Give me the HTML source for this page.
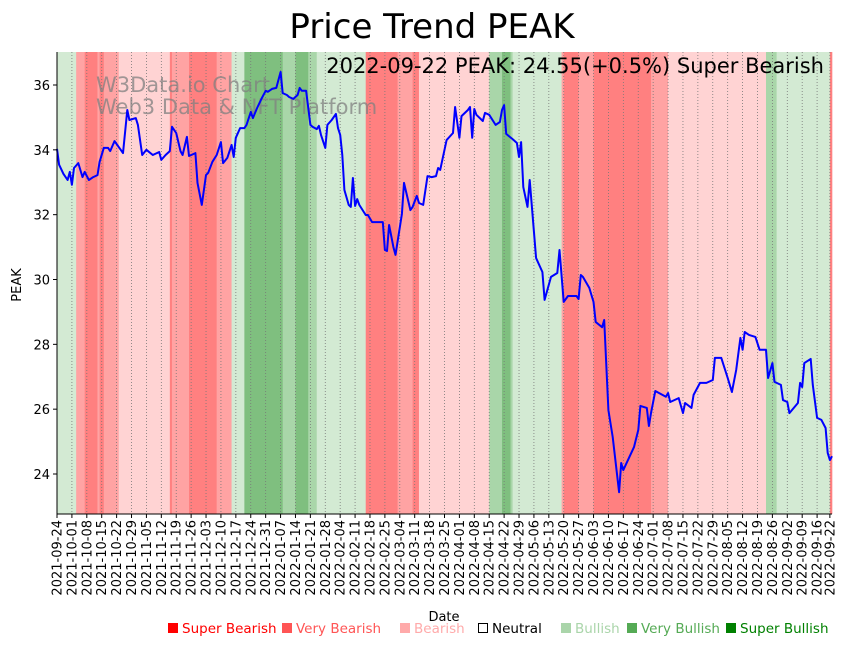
<!DOCTYPE html>
<html><head><meta charset="utf-8"><style>
body{margin:0;background:#fff;width:851px;height:646px;overflow:hidden;font-family:"Liberation Sans","DejaVu Sans",sans-serif}
svg text{font-family:"DejaVu Sans","Liberation Sans",sans-serif}
</style></head><body>
<svg id="chart" width="851" height="646" viewBox="0 0 851 646" xmlns="http://www.w3.org/2000/svg">
<text x="432" y="38" font-size="34" text-anchor="middle" fill="#000">Price Trend PEAK</text>
<g id="bands"></g>
<g id="grid"></g>
<g fill="#808080" fill-opacity="0.75" font-size="21">
<text x="96" y="92">W3Data.io Chart</text>
<text x="96" y="114">Web3 Data &amp; NFT Platform</text>
</g>
<text x="824" y="73" font-size="21" text-anchor="end" fill="#000">2022-09-22 PEAK: 24.55(+0.5%) Super Bearish</text>
<path id="line" fill="none" stroke="#0000ff" stroke-width="2" stroke-linejoin="round"></path>
<line x1="57" y1="52" x2="57" y2="514" stroke="#000" stroke-width="1"/>
<line x1="57" y1="514" x2="832" y2="514" stroke="#000" stroke-width="1"/>
<g id="yticks"></g>
<g id="xticks"></g>
<text x="0" y="0" transform="translate(21,285) rotate(-90)" font-size="13" text-anchor="middle">PEAK</text>
<text x="444" y="621" font-size="13" text-anchor="middle">Date</text>
<g font-size="13.5">
<g fill="#ff0000"><rect x="168" y="623" width="10" height="10"/><text x="182" y="633">Super Bearish</text></g>
<g fill="#ff5555"><rect x="282" y="623" width="10" height="10"/><text x="296" y="633">Very Bearish</text></g>
<g fill="#ffaaaa"><rect x="400" y="623" width="10" height="10"/><text x="414" y="633">Bearish</text></g>
<g fill="#000"><rect x="478.5" y="623.5" width="9" height="9" fill="none" stroke="#000"/><text x="492" y="633">Neutral</text></g>
<g fill="#aad5aa"><rect x="561" y="623" width="10" height="10"/><text x="575" y="633">Bullish</text></g>
<g fill="#55aa55"><rect x="627" y="623" width="10" height="10"/><text x="641" y="633">Very Bullish</text></g>
<g fill="#008000"><rect x="726" y="623" width="10" height="10"/><text x="740" y="633">Super Bullish</text></g>
</g>
</svg>
<script>
const priceDays=[0,1,3,5,6,7,8,10,12,13,15,17,19,20,22,24,25,27,29,31,33,34,37,38,40,42,45,46,48,49,51,53,54,56,58,59,61,62,65,66,68,70,71,73,75,77,78,80,82,83,84,86,88,89,91,92,94,96,98,99,101,103,105,106,108,109,111,113,114,115,117,119,120,122,123,124,126,127,129,131,132,133,134,135,137,138,139,140,141,142,145,146,148,150,153,154,155,156,158,159,162,163,166,167,169,170,172,174,176,178,179,180,183,186,187,189,190,193,194,195,196,197,200,201,203,206,208,209,210,211,214,216,217,218,219,221,222,225,228,229,232,235,236,238,240,244,245,246,247,250,252,253,256,257,259,261,264,265,266,271,273,274,277,278,279,281,286,287,288,292,294,295,298,299,302,305,308,309,312,315,317,319,321,322,323,325,328,330,333,334,336,337,340,341,343,344,348,349,350,351,354,355,357,359,361,362,363,364];
const prices=[34.03,33.54,33.26,33.07,33.32,32.92,33.44,33.59,33.16,33.32,33.07,33.16,33.22,33.63,34.06,34.06,33.96,34.27,34.09,33.90,35.23,34.92,34.98,34.77,33.84,34.0,33.84,33.87,33.93,33.69,33.84,33.96,34.71,34.52,33.96,33.84,34.40,33.81,33.90,32.98,32.30,33.22,33.29,33.63,33.84,34.24,33.59,33.75,34.15,33.78,34.37,34.67,34.67,34.77,35.17,34.98,35.29,35.57,35.82,35.79,35.88,35.91,36.40,35.75,35.69,35.63,35.57,35.69,35.91,35.82,35.82,34.77,34.71,34.64,34.74,34.46,34.06,34.77,34.92,35.11,34.67,34.46,33.84,32.76,32.30,32.24,33.13,32.27,32.48,32.30,31.99,31.99,31.77,31.77,31.77,30.91,30.88,31.68,31.0,30.76,32.02,32.98,32.14,32.24,32.58,32.36,32.30,33.19,33.16,33.19,33.44,33.38,34.30,34.52,35.32,34.37,35.04,35.23,35.32,34.37,35.26,35.08,34.89,35.14,35.08,34.77,34.86,35.23,35.38,34.49,34.33,34.21,33.78,34.24,32.85,32.24,33.07,30.66,30.23,29.37,30.08,30.20,30.91,29.31,29.49,29.49,29.40,30.14,30.08,29.74,29.31,28.69,28.53,28.75,25.97,25.14,23.44,24.34,24.12,24.83,25.36,26.10,26.04,25.48,25.88,26.56,26.38,26.50,26.22,26.34,25.88,26.19,26.04,26.44,26.81,26.81,26.90,27.58,27.58,26.96,26.53,27.21,28.20,27.83,28.38,28.29,28.23,27.83,27.83,26.96,27.42,26.84,26.75,26.28,26.22,25.88,26.19,26.81,26.68,27.42,27.55,26.75,25.73,25.67,25.42,24.65,24.43,24.55];
const bandStarts=[0,9,13,19,20,22,29,53,54,62,69,75,82,88,106,112,118,122,145,160,167,170,203,209,213,214,237,238,245,252,279,287,333,338,363];
const bandEnds=[9,13,19,20,22,29,53,54,62,69,75,82,88,106,112,118,122,145,160,167,170,203,209,213,214,237,238,245,252,279,287,333,338,363,364];
const bandLevels=[1,-2,-3,-2,-3,-2,-1,-3,-2,-3,-3,-2,1,3,2,3,2,1,-3,-2,-3,-1,2,3,2,1,-2,-3,-2,-3,-2,-1,2,1,-3];
const yTicks=[24,26,28,30,32,34,36];
const totalDays=364;
const startDate=new Date(Date.UTC(2021,8,24));

const X0=57,X1=832,Y0=52,Y1=514;
const xs=d=>X0+d*(X1-X0)/totalDays;
const ys=v=>474-(v-24)*(389/12);
const NS="http://www.w3.org/2000/svg";
const colors={"-3":"#ff8080","-2":"#ffa3a3","-1":"#ffd3d3","0":"#ffffff","1":"#d3ead3","2":"#a9d6a9","3":"#7fbf7f"};
const bandsG=document.getElementById('bands');
for(let i=0;i<bandStarts.length;i++){
  const r=document.createElementNS(NS,'rect');
  
  
  r.setAttribute('x',xs(bandStarts[i]));r.setAttribute('y',Y0);
  r.setAttribute('width',xs(bandEnds[i])-xs(bandStarts[i])+0.3);r.setAttribute('height',Y1-Y0);
  r.setAttribute('fill',colors[bandLevels[i]]);
  bandsG.appendChild(r);
}
const fmt=d=>{const t=new Date(startDate.getTime()+d*86400000);return t.toISOString().slice(0,10);};
const tickDays=[];for(let d=0;d<totalDays-1;d+=7)tickDays.push(d);tickDays.push(totalDays-1);
const gridG=document.getElementById('grid'),xt=document.getElementById('xticks');
tickDays.forEach(d=>{
  const x=xs(d);
  const g=document.createElementNS(NS,'line');
  
  
  g.setAttribute('x1',x);g.setAttribute('x2',x);g.setAttribute('y1',Y0);g.setAttribute('y2',Y1);
  g.setAttribute('stroke','#777');g.setAttribute('stroke-width','0.8');g.setAttribute('stroke-dasharray','1,2');
  gridG.appendChild(g);
  const t=document.createElementNS(NS,'line');
  
  
  t.setAttribute('x1',x);t.setAttribute('x2',x);t.setAttribute('y1',Y1);t.setAttribute('y2',Y1+4);t.setAttribute('stroke','#000');
  xt.appendChild(t);
  const l=document.createElementNS(NS,'text');
  
  
  l.setAttribute('transform','translate('+(x+4.5)+','+(Y1+6)+') rotate(-90)');
  l.setAttribute('text-anchor','end');l.setAttribute('font-size','13');
  l.textContent=fmt(d);xt.appendChild(l);
});
const yt=document.getElementById('yticks');
yTicks.forEach(v=>{
  const y=ys(v);
  const t=document.createElementNS(NS,'line');
  
  
  t.setAttribute('x1',X0-4);t.setAttribute('x2',X0);t.setAttribute('y1',y);t.setAttribute('y2',y);t.setAttribute('stroke','#000');
  yt.appendChild(t);
  const l=document.createElementNS(NS,'text');
  
  
  l.setAttribute('x',X0-7);l.setAttribute('y',y+5);l.setAttribute('text-anchor','end');l.setAttribute('font-size','13');
  l.textContent=v;yt.appendChild(l);
});
document.getElementById('line').setAttribute('d',priceDays.map((d,i)=>(i?'L':'M')+xs(d).toFixed(1)+','+ys(prices[i]).toFixed(1)).join(''));
</script>
</body></html>
